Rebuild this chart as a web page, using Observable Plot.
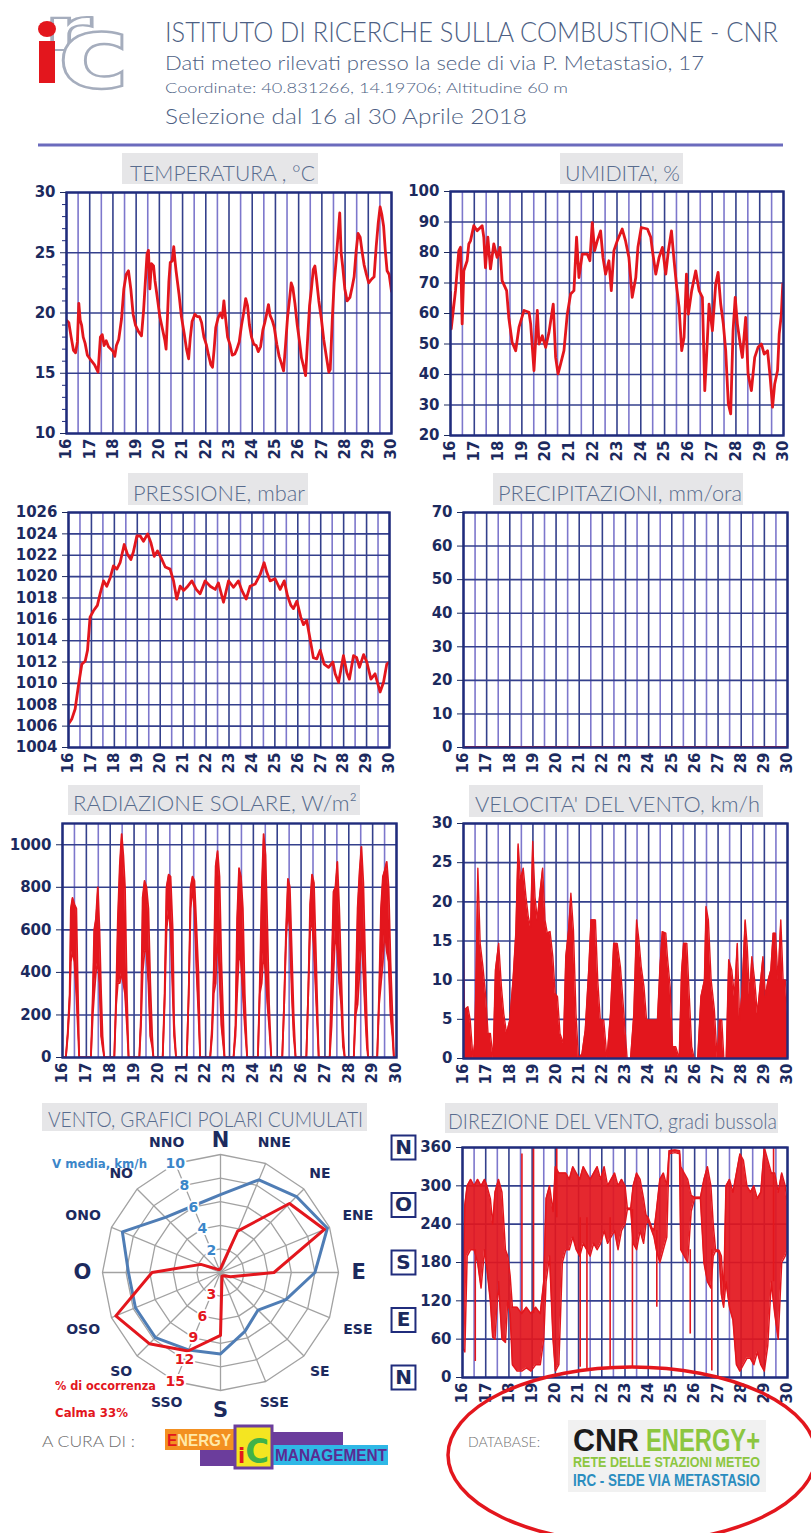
<!DOCTYPE html>
<html>
<head>
<meta charset="utf-8">
<script src="https://cdn.jsdelivr.net/npm/d3@7"></script>
<script src="https://cdn.jsdelivr.net/npm/@observablehq/plot@0.6"></script>
<style>
  body { margin: 0; background: #fff; }
  #page { position: relative; width: 811px; height: 1533px; overflow: hidden; background: #fff; }
  #page > svg { position: absolute; }
  .tchart text { font-weight: 700; }
</style>
</head>
<body>
<div id="page"></div>
<script>
// ---------- Asse temporale (giorni di aprile 2018) ----------
const giorni = [16, 17, 18, 19, 20, 21, 22, 23, 24, 25, 26, 27, 28, 29, 30];
const mezziGiorni = [16.5, 17.5, 18.5, 19.5, 20.5, 21.5, 22.5, 23.5, 24.5, 25.5, 26.5, 27.5, 28.5, 29.5];

// ---------- Temperatura, °C  [giorno, valore] ----------
const temperatura = [
  [16.00,19.4],[16.10,19.2],[16.20,18.0],[16.30,16.9],[16.39,16.7],[16.47,17.6],[16.53,20.8],[16.59,19.4],
  [16.65,19.0],[16.72,18.0],[16.80,17.5],[16.90,16.5],[17.01,16.2],[17.21,15.7],[17.36,15.1],[17.46,18.0],
  [17.54,18.2],[17.62,17.3],[17.71,17.7],[17.81,17.2],[17.91,17.0],[18.01,16.8],[18.08,16.4],[18.15,17.3],
  [18.25,17.8],[18.37,19.5],[18.47,22.0],[18.57,23.2],[18.67,23.5],[18.77,22.0],[18.87,19.9],[18.97,19.0],
  [19.12,18.4],[19.23,18.1],[19.32,20.2],[19.39,22.4],[19.47,24.9],[19.53,25.2],[19.59,22.0],[19.66,24.1],
  [19.75,23.9],[19.81,22.7],[19.91,21.3],[20.02,19.7],[20.12,18.8],[20.24,17.7],[20.29,17.0],[20.35,19.7],
  [20.41,22.6],[20.47,24.2],[20.55,24.3],[20.62,25.5],[20.67,24.4],[20.72,23.5],[20.85,21.5],[20.95,19.7],
  [21.07,18.3],[21.17,17.0],[21.26,16.2],[21.33,17.9],[21.41,19.3],[21.53,19.9],[21.63,19.7],[21.73,19.7],
  [21.82,19.2],[21.92,18.0],[22.02,17.4],[22.12,16.5],[22.22,15.7],[22.29,15.5],[22.36,17.0],[22.43,18.8],
  [22.53,19.6],[22.63,20.0],[22.71,19.6],[22.78,21.0],[22.84,19.8],[22.94,18.0],[23.04,17.4],[23.14,16.5],
  [23.25,16.6],[23.34,17.0],[23.44,17.6],[23.54,19.0],[23.64,20.1],[23.72,21.2],[23.80,20.6],[23.88,19.0],
  [23.97,18.0],[24.07,17.4],[24.17,17.3],[24.26,16.8],[24.36,17.2],[24.46,18.6],[24.54,19.2],[24.63,20.0],
  [24.70,20.7],[24.77,19.8],[24.86,19.4],[24.95,18.8],[25.06,17.4],[25.16,16.4],[25.26,15.8],[25.35,15.2],
  [25.43,17.2],[25.52,19.6],[25.61,21.2],[25.68,22.5],[25.75,22.1],[25.84,20.8],[25.94,19.0],[26.04,17.6],
  [26.12,16.3],[26.21,15.6],[26.30,14.8],[26.38,17.6],[26.47,20.6],[26.55,22.0],[26.63,23.6],[26.70,23.9],
  [26.77,22.8],[26.87,21.0],[26.98,19.5],[27.08,17.8],[27.20,16.3],[27.30,15.1],[27.36,15.3],[27.45,19.5],
  [27.53,22.5],[27.62,24.5],[27.70,26.5],[27.77,28.3],[27.83,25.0],[27.90,23.8],[27.99,22.0],[28.09,21.0],
  [28.21,21.3],[28.31,22.2],[28.39,23.0],[28.48,25.2],[28.56,26.6],[28.65,26.3],[28.74,25.0],[28.82,24.0],
  [28.92,23.2],[29.02,22.5],[29.14,22.8],[29.25,23.0],[29.34,25.5],[29.43,27.5],[29.51,28.8],[29.58,28.2],
  [29.66,27.2],[29.74,25.0],[29.81,23.5],[29.90,23.2],[30.00,21.8]
];

// ---------- Umidità relativa, %  [giorno, valore] ----------
const umidita = [
  [16.00,67],[16.03,55],[16.21,67.5],[16.35,80.6],[16.42,81.7],[16.49,56.6],[16.56,74],[16.70,77.3],
  [16.77,82.8],[16.84,83.8],[16.98,88.8],[17.12,87.1],[17.33,88.8],[17.40,85],[17.47,75],[17.57,85],
  [17.68,74.6],[17.82,82.8],[17.96,78.4],[18.08,81.7],[18.17,70.8],[18.36,67.5],[18.45,58.7],[18.59,50.6],
  [18.74,47.8],[18.88,55.5],[19.09,61],[19.30,60.4],[19.37,56.6],[19.51,41.3],[19.65,61],[19.72,50],
  [19.86,52.7],[20.00,48.9],[20.14,53.8],[20.32,63.1],[20.42,45.6],[20.52,40.2],[20.63,43.5],[20.77,47.8],
  [20.91,59.8],[21.05,66.4],[21.19,67.5],[21.30,85],[21.40,71.8],[21.54,79.5],[21.75,79.5],[21.86,77.3],
  [21.96,89.8],[22.06,80.6],[22.17,83.8],[22.31,87.1],[22.41,78.4],[22.52,72.9],[22.66,77.3],[22.76,67.5],
  [22.87,80.6],[23.01,83.8],[23.22,87.7],[23.36,83.8],[23.50,78.4],[23.64,65.3],[23.79,71.8],[23.88,81.7],
  [24.02,88.2],[24.28,87.7],[24.42,85],[24.49,80.6],[24.63,72.9],[24.77,78.4],[24.91,81.7],[25.05,72.9],
  [25.16,80.6],[25.29,87.1],[25.40,77.3],[25.51,68.6],[25.61,62],[25.72,47.8],[25.82,52.2],[25.92,72.9],
  [26.00,59.8],[26.14,67.5],[26.31,74],[26.45,67.5],[26.59,65.3],[26.69,34.7],[26.77,46.7],[26.87,63.1],
  [27.01,54.4],[27.15,69.7],[27.25,73.5],[27.36,63.1],[27.47,56.6],[27.57,47.8],[27.68,30.4],[27.78,27.1],
  [27.88,54.4],[27.97,65.3],[28.06,56.6],[28.18,50],[28.27,45.6],[28.41,58.7],[28.51,40.2],[28.65,34.7],
  [28.79,45.6],[28.93,48.9],[29.07,50],[29.19,46.7],[29.33,47.8],[29.44,39.1],[29.54,29.3],[29.63,36.9],
  [29.75,41.3],[29.82,53.3],[29.91,59.8],[29.97,69.7],[30.00,60.9]
];

// ---------- Pressione, mbar  [giorno, valore] ----------
const pressione = [
  [16.00,1006.2],[16.15,1006.7],[16.29,1007.6],[16.44,1009.9],[16.58,1011.8],[16.73,1012.1],[16.83,1013.1],
  [16.94,1016.2],[17.09,1016.8],[17.26,1017.3],[17.38,1018.4],[17.53,1019.6],[17.67,1019.1],[17.82,1019.9],
  [17.96,1021.0],[18.11,1020.7],[18.25,1021.3],[18.43,1023.0],[18.57,1022.1],[18.72,1021.6],[18.83,1022.3],
  [18.98,1023.8],[19.13,1023.8],[19.27,1023.3],[19.45,1024.0],[19.59,1023.2],[19.74,1021.9],[19.88,1022.4],
  [20.03,1021.8],[20.22,1020.9],[20.43,1020.7],[20.58,1019.6],[20.72,1017.9],[20.87,1019.1],[21.02,1018.7],
  [21.16,1019.0],[21.38,1019.6],[21.57,1018.8],[21.74,1018.4],[21.96,1019.6],[22.18,1019.1],[22.40,1018.8],
  [22.54,1019.4],[22.76,1017.6],[22.98,1019.6],[23.20,1019.0],[23.41,1019.6],[23.56,1018.7],[23.75,1017.9],
  [23.92,1019.1],[24.14,1019.3],[24.36,1020.2],[24.53,1021.3],[24.65,1020.4],[24.79,1019.6],[25.01,1019.8],
  [25.23,1018.8],[25.41,1019.6],[25.55,1018.2],[25.70,1017.3],[25.81,1017.0],[25.96,1017.7],[26.13,1016.2],
  [26.25,1015.5],[26.39,1015.9],[26.54,1014.1],[26.68,1012.4],[26.83,1012.3],[26.98,1013.1],[27.15,1011.8],
  [27.34,1011.5],[27.53,1012.0],[27.63,1010.9],[27.78,1010.1],[27.99,1012.6],[28.14,1011.0],[28.25,1010.4],
  [28.43,1012.6],[28.57,1012.4],[28.69,1011.5],[28.87,1012.7],[29.01,1012.0],[29.19,1010.4],[29.37,1010.9],
  [29.59,1009.2],[29.74,1010.1],[29.88,1011.8],[30.00,1012.0]
];

// ---------- Precipitazioni, mm/ora  [giorno, valore] ----------
const precipitazioni = [
  [16,0],[17,0],[18,0],[19,0],[20,0],[21,0],[22,0],[23,0],[24,0],[25,0],[26,0],[27,0],[28,0],[29,0],[30,0]
];

// ---------- Radiazione solare, W/m²  [giorno, massimo, minimo] ----------
const radiazione = [
  [16.00,0,0],
  [16.14,0,0],[16.22,120,100],[16.30,300,250],[16.35,700,450],[16.42,750,500],[16.50,720,450],[16.58,700,300],[16.62,460,200],[16.70,0,0],
  [17.19,0,0],[17.27,300,200],[17.33,600,300],[17.40,650,400],[17.48,800,450],[17.55,600,350],[17.62,300,100],[17.68,100,50],[17.75,0,0],
  [18.17,0,0],[18.25,300,250],[18.32,650,350],[18.40,900,350],[18.48,1050,400],[18.55,950,350],[18.62,800,300],[18.70,300,150],[18.77,0,0],
  [19.22,0,0],[19.29,200,150],[19.36,750,400],[19.44,830,500],[19.52,800,500],[19.60,700,350],[19.68,350,100],[19.76,100,50],[19.81,0,0],
  [20.20,0,0],[20.28,300,250],[20.36,800,600],[20.45,860,700],[20.53,850,600],[20.62,600,300],[20.68,160,100],[20.76,0,0],
  [21.21,0,0],[21.29,300,300],[21.37,800,700],[21.45,850,800],[21.53,830,700],[21.62,600,400],[21.70,390,200],[21.77,0,0],
  [22.19,0,0],[22.27,150,100],[22.34,400,300],[22.42,900,350],[22.50,970,600],[22.58,850,400],[22.66,450,150],[22.79,0,0],
  [23.17,0,0],[23.25,150,100],[23.32,650,300],[23.40,890,500],[23.48,850,450],[23.56,700,300],[23.64,300,150],[23.74,0,0],
  [24.19,0,0],[24.27,350,300],[24.35,780,350],[24.43,1050,500],[24.51,950,400],[24.59,600,250],[24.66,250,150],[24.75,0,0],
  [25.21,0,0],[25.29,250,250],[25.37,600,550],[25.45,840,700],[25.53,800,600],[25.61,500,300],[25.69,200,100],[25.77,0,0],
  [26.22,0,0],[26.30,300,300],[26.38,720,600],[26.46,860,650],[26.54,820,500],[26.62,500,300],[26.74,0,0],
  [27.20,0,0],[27.28,400,150],[27.36,780,400],[27.44,800,600],[27.52,920,500],[27.60,700,350],[27.68,400,250],[27.76,120,50],[27.83,0,0],
  [28.21,0,0],[28.29,300,200],[28.37,700,250],[28.45,870,400],[28.53,990,600],[28.61,820,400],[28.69,450,200],[28.76,150,50],[28.81,0,0],
  [29.19,0,0],[29.27,300,250],[29.35,700,350],[29.43,850,450],[29.51,880,600],[29.59,920,500],[29.67,800,450],[29.75,450,200],[29.83,200,100],[29.89,0,0],
  [30.00,0,0]
];

// ---------- Velocità del vento, km/h  [giorno, valore] ----------
const velocitaVento = [
  [16.00,14.7],[16.04,6.2],[16.19,6.6],[16.29,4.9],[16.41,0],[16.48,1.9],[16.55,11.7],[16.62,24.3],[16.72,14.7],
  [16.84,11.7],[16.96,7.9],[17.06,3.2],[17.16,3.2],[17.28,0],[17.38,11.3],[17.52,14.7],[17.64,9.1],[17.74,5.7],
  [17.86,3.2],[18.00,4.9],[18.14,10],[18.26,16],[18.36,27.4],[18.46,22.8],[18.58,24.3],[18.70,20.6],[18.80,18.1],
  [18.90,16.8],[18.99,27.7],[19.09,20.6],[19.19,17.7],[19.30,21.1],[19.42,24.3],[19.52,17.7],[19.62,16],[19.74,16.2],
  [19.86,13],[19.96,8.3],[20.06,7.9],[20.17,3.2],[20.32,1.9],[20.42,13],[20.54,16.4],[20.64,21.1],[20.75,16.4],
  [20.86,5.7],[20.97,0],[21.12,0.6],[21.26,3.6],[21.41,11.3],[21.51,17.7],[21.70,17.7],[21.80,10],[21.91,4.9],
  [22.06,4.9],[22.20,0],[22.35,5.7],[22.49,14.7],[22.64,14.7],[22.78,11.7],[22.93,5.7],[23.07,0],[23.22,0],
  [23.36,5.7],[23.48,17.7],[23.58,15.1],[23.68,11.7],[23.80,9.1],[23.91,4.9],[24.06,4.9],[24.23,4.9],[24.38,4.9],
  [24.49,11.7],[24.59,16.2],[24.74,16],[24.81,13],[24.93,9.1],[25.03,1.5],[25.17,1.5],[25.32,0],[25.42,10.9],
  [25.51,14.7],[25.65,14.7],[25.75,8.3],[25.86,1.5],[25.97,0],[26.12,0],[26.26,7.9],[26.41,10],[26.48,19.4],
  [26.58,17.7],[26.70,10],[26.84,6.2],[26.96,0],[27.06,4.9],[27.16,4.9],[27.25,0],[27.35,0],[27.46,12.6],
  [27.59,11.3],[27.71,7.9],[27.83,14.7],[27.93,4.9],[28.03,8.3],[28.17,17.7],[28.26,14.3],[28.36,7.9],[28.46,13],
  [28.58,10],[28.70,5.7],[28.84,10],[28.94,13],[29.04,7.9],[29.16,10],[29.28,11.3],[29.38,16],[29.48,16],
  [29.59,10],[29.71,17.7],[29.81,10],[29.91,10],[30.00,5.7]
];

// ---------- Direzione del vento, gradi  [giorno, minimo, massimo] ----------
const direzioneVento = [
  [16.00,47,90],[16.10,40,270],[16.20,190,300],[16.35,200,310],[16.50,200,300],[16.65,180,310],[16.80,140,300],
  [16.95,200,310],[17.05,170,300],[17.20,120,280],[17.30,63,240],[17.40,60,290],[17.55,150,310],[17.70,60,290],
  [17.85,55,200],[17.95,120,190],[18.05,100,160],[18.15,20,110],[18.35,10,110],[18.55,10,100],[18.75,15,110],
  [18.95,10,100],[19.15,20,110],[19.35,20,100],[19.50,60,150],[19.60,150,280],[19.75,190,300],[19.90,60,260],
  [20.00,10,330],[20.15,20,320],[20.30,180,320],[20.45,200,320],[20.60,200,310],[20.75,220,330],[20.90,200,320],
  [21.05,190,310],[21.20,210,330],[21.35,200,320],[21.50,190,310],[21.65,210,320],[21.80,200,330],[21.95,210,310],
  [22.10,230,330],[22.25,210,300],[22.40,220,310],[22.55,230,320],[22.70,200,300],[22.85,230,310],[23.00,240,300],
  [23.10,263,265],[23.25,263,265],[23.35,210,300],[23.50,200,320],[23.65,230,310],[23.80,210,280],[23.90,240,255],
  [24.00,245,250],[24.15,230,235],[24.25,220,230],[24.35,200,260],[24.50,180,310],[24.65,200,320],[24.80,220,300],
  [24.90,350,355],[25.15,352,356],[25.35,350,355],[25.40,200,330],[25.55,190,320],[25.70,180,310],[25.85,260,285],
  [26.00,280,282],[26.25,280,282],[26.40,180,310],[26.55,150,330],[26.70,140,300],[26.80,190,240],[26.90,198,200],
  [27.05,196,199],[27.15,130,190],[27.25,110,130],[27.35,150,300],[27.50,110,310],[27.65,90,290],[27.80,20,320],
  [27.95,10,350],[28.10,20,340],[28.25,30,300],[28.40,30,290],[28.55,20,300],[28.70,40,280],[28.85,20,290],
  [29.00,10,360],[29.15,50,340],[29.30,150,320],[29.45,100,320],[29.60,60,290],[29.75,180,320],[29.90,190,300],
  [30.00,200,270]
];
// Escursioni brevi e isolate della direzione  [giorno, da, a]
const direzionePicchi = [
  [16.55,25,200],[18.56,100,350],[19.06,100,360],[20.06,250,360],[21.07,16,250],[21.36,10,250],[22.36,16,250],
  [23.32,16,263],[24.37,110,230],[25.81,68,200],[26.74,10,200],[29.40,150,360]
];
const bussola = [
  {lettera: "N", gradi: 360}, {lettera: "O", gradi: 270}, {lettera: "S", gradi: 180},
  {lettera: "E", gradi: 90}, {lettera: "N", gradi: 0}
];

// ---------- Grafici polari cumulati ----------
const direzioni = ["N","NNE","NE","ENE","E","ESE","SE","SSE","S","SSO","SO","OSO","O","ONO","NO","NNO"];
const vMedia = [6.6, 8.5, 9.1, 9.8, 8.0, 6.0, 4.5, 5.4, 6.9, 7.1, 7.8, 7.8, 7.8, 9.0, 6.6, 6.1];   // km/h
const occorrenza = [0.5, 5.7, 12.4, 14.3, 6.8, 1.4, 0.6, 0.5, 8.0, 10.8, 12.8, 14.4, 8.7, 2.7, 0.6, 0.4]; // %
const etichetteV = [2, 4, 6, 8, 10];
const etichetteP = [3, 6, 9, 12, 15];
const calma = 33;

// ---------- Stile ----------
const RED = "#e3161d";
const NAVY = "#1c2a5e";
const FRAME = "#202c7c";
const GRID_DAY = "#34408c";
const GRID_HALF = "#7d77cc";
const FONT = "'DejaVu Sans', Verdana, sans-serif";
const page = document.getElementById("page");

function place(node, left, top) {
  node.style.left = left + "px";
  node.style.top = top + "px";
  page.appendChild(node);
}

// Grafico su base temporale con la griglia del bollettino
function timeChart({left, frame: [fx0, fy0, fx1, fy1], domain, ticks, minor = [], marks, extra = []}) {
  const top = fy0 - 14;
  const marginLeft = fx0 - left, marginTop = fy0 - top, marginRight = 12, marginBottom = 36;
  const width = fx1 - left + marginRight;
  const height = fy1 - top + marginBottom;
  const chart = Plot.plot({
    width, height, marginLeft, marginTop, marginRight, marginBottom,
    className: "tchart",
    style: {background: "transparent", fontFamily: FONT, fontSize: "15px", overflow: "visible"},
    x: {domain: [16, 30]},
    y: {domain},
    marks: [
      Plot.ruleX(mezziGiorni, {stroke: GRID_HALF, strokeWidth: 1.6}),
      Plot.ruleX(giorni, {stroke: GRID_DAY, strokeWidth: 1.6}),
      Plot.ruleY(ticks, {stroke: GRID_DAY, strokeWidth: 1.6}),
      ...marks,
      Plot.frame({stroke: FRAME, strokeWidth: 2.4}),
      ...(minor.length ? [Plot.axisY(minor, {tickSize: 4, tickFormat: () => "", label: null, color: FRAME})] : []),
      Plot.axisY(ticks, {tickSize: 6, tickPadding: 5, tickFormat: d => String(d), label: null, fontSize: 15, fontWeight: "bold", color: NAVY}),
      Plot.axisX(giorni, {tickRotate: -90, tickSize: 0, tickPadding: 5, tickFormat: d => String(d), label: null, fontSize: 15, fontWeight: "bold", color: NAVY}),
      ...extra
    ]
  });
  place(chart, left, top);
}

const lineOf = (data, w = 2.8) => Plot.line(data, {x: d => d[0], y: d => d[1], stroke: RED, strokeWidth: w, clip: true});

// Temperatura
timeChart({
  left: 0, frame: [66, 192, 391, 433], domain: [10, 30],
  ticks: [10, 15, 20, 25, 30],
  minor: [11,12,13,14,16,17,18,19,21,22,23,24,26,27,28,29],
  marks: [lineOf(temperatura)]
});
// Umidità
timeChart({
  left: 395, frame: [450, 191, 783, 435], domain: [20, 100],
  ticks: [20, 30, 40, 50, 60, 70, 80, 90, 100],
  marks: [lineOf(umidita)]
});
// Pressione
timeChart({
  left: 0, frame: [68, 512, 389, 747], domain: [1004, 1026],
  ticks: [1004,1006,1008,1010,1012,1014,1016,1018,1020,1022,1024,1026],
  marks: [lineOf(pressione)]
});
// Precipitazioni
timeChart({
  left: 395, frame: [463, 512, 787, 747], domain: [0, 70],
  ticks: [0, 10, 20, 30, 40, 50, 60, 70],
  marks: [lineOf(precipitazioni, 3)]
});
// Radiazione solare
timeChart({
  left: 0, frame: [62, 823, 396, 1057], domain: [0, 1100],
  ticks: [0, 200, 400, 600, 800, 1000],
  marks: [
    Plot.areaY(radiazione, {x: d => d[0], y1: d => d[2], y2: d => d[1], fill: RED, clip: true}),
    Plot.line(radiazione, {x: d => d[0], y: d => d[1], stroke: RED, strokeWidth: 1.8, clip: true}),
    Plot.line(radiazione, {x: d => d[0], y: d => d[2], stroke: RED, strokeWidth: 1.8, clip: true})
  ]
});
// Velocità del vento
timeChart({
  left: 395, frame: [463, 823, 787, 1058], domain: [0, 30],
  ticks: [0, 5, 10, 15, 20, 25, 30],
  marks: [
    Plot.areaY(velocitaVento, {x: d => d[0], y: d => d[1], fill: RED, clip: true}),
    Plot.line(velocitaVento, {x: d => d[0], y: d => d[1], stroke: RED, strokeWidth: 1.4, clip: true})
  ]
});
// Direzione del vento
timeChart({
  left: 380, frame: [462, 1147, 787, 1377], domain: [0, 360],
  ticks: [0, 60, 120, 180, 240, 300, 360],
  marks: [
    Plot.areaY(direzioneVento, {x: d => d[0], y1: d => d[1], y2: d => d[2], fill: RED, fillOpacity: 0.92, clip: true}),
    Plot.line(direzioneVento, {x: d => d[0], y: d => d[1], stroke: RED, strokeWidth: 1.5, clip: true}),
    Plot.line(direzioneVento, {x: d => d[0], y: d => d[2], stroke: RED, strokeWidth: 1.5, clip: true}),
    Plot.ruleX(direzionePicchi, {x: d => d[0], y1: d => d[1], y2: d => d[2], stroke: RED, strokeWidth: 1.6})
  ],
  extra: [
    Plot.dot(bussola, {y: "gradi", frameAnchor: "left", dx: -59, symbol: "square", r: 13.5, fill: "white", stroke: FRAME, strokeWidth: 2}),
    Plot.text(bussola, {y: "gradi", text: "lettera", frameAnchor: "left", textAnchor: "middle", dx: -59, fontSize: 20, fontWeight: "bold", fill: NAVY})
  ]
});

// Rosa dei venti: velocità media e frequenza per settore
{
  const ang = i => i * Math.PI / 8;
  const closed = arr => arr.map((v, i) => ({v, i})).concat([{v: arr[0], i: 0}]);
  const anelli = [0.2, 0.4, 0.6, 0.8, 1].flatMap(k => direzioni.concat(direzioni[0]).map((d, j) => ({k, i: j % 16})));
  const labelR = d => d === "N" ? 1.12 : d.length === 1 ? 1.17 : (d.length === 3 && (d[0] === "E" || d[0] === "O") ? 1.26 : 1.19);
  const polar = Plot.plot({
    width: 380, height: 320, margin: 0,
    style: {background: "transparent", fontFamily: FONT, overflow: "visible"},
    x: {domain: [-1.61, 1.61], axis: null},
    y: {domain: [-1.356, 1.356], axis: null},
    marks: [
      Plot.line(anelli, {x: d => d.k * Math.sin(ang(d.i)), y: d => d.k * Math.cos(ang(d.i)), z: "k", stroke: "#a2a2a2", strokeWidth: 1.3}),
      Plot.link(direzioni, {x1: 0, y1: 0, x2: (d, i) => Math.sin(ang(i)), y2: (d, i) => Math.cos(ang(i)), stroke: "#a2a2a2", strokeWidth: 1.3}),
      Plot.line(closed(vMedia), {x: d => d.v / 10 * Math.sin(ang(d.i)), y: d => d.v / 10 * Math.cos(ang(d.i)), stroke: "#4f7db5", strokeWidth: 3}),
      Plot.line(closed(occorrenza), {x: d => d.v / 15 * Math.sin(ang(d.i)), y: d => d.v / 15 * Math.cos(ang(d.i)), stroke: RED, strokeWidth: 3}),
      Plot.text(etichetteV, {x: v => v / 10 * Math.sin(ang(15)), y: v => v / 10 * Math.cos(ang(15)), text: d => String(d), fill: "#3b86c9", stroke: "white", strokeWidth: 4, fontSize: 14, fontWeight: "bold"}),
      Plot.text(etichetteP, {x: v => v / 15 * Math.sin(ang(9)), y: v => v / 15 * Math.cos(ang(9)), text: d => String(d), fill: RED, stroke: "white", strokeWidth: 4, fontSize: 14, fontWeight: "bold"}),
      Plot.text(direzioni, {
        x: (d, i) => labelR(d) * Math.sin(ang(i)), y: (d, i) => labelR(d) * Math.cos(ang(i)),
        text: d => d, fontSize: d => d.length === 1 ? 21 : 14, fontWeight: "bold", fill: NAVY
      })
    ]
  });
  place(polar, 30, 1112);
}

// Testata, titoli dei riquadri e piè di pagina
const titoli = [
  {t: "TEMPERATURA , °C", box: [122, 153, 196, 31], x: 130, w: 185, y: 181},
  {t: "UMIDITA', %", box: [560, 153, 123, 31], x: 565, w: 115, y: 181},
  {t: "PRESSIONE, mbar", box: [128, 473, 180, 32], x: 133, w: 172, y: 501},
  {t: "PRECIPITAZIONI, mm/ora", box: [493, 473, 250, 32], x: 498, w: 244, y: 501},
  {t: "RADIAZIONE SOLARE, W/m²", box: [68, 785, 292, 30], x: 73, w: 284, y: 811},
  {t: "VELOCITA' DEL VENTO, km/h", box: [469, 785, 294, 32], x: 475, w: 285, y: 812},
  {t: "VENTO, GRAFICI POLARI CUMULATI", box: [42, 1103, 325, 28], x: 48, w: 315, y: 1127},
  {t: "DIREZIONE DEL VENTO, gradi bussola", box: [445, 1103, 333, 30], x: 448, w: 329, y: 1129}
];
const T = (x, y, s, opts, txt) =>
  `<text x="${x}" y="${y}" font-size="${s}" ${opts}>${txt}</text>`;
const fit = w => `textLength="${w}" lengthAdjust="spacingAndGlyphs"`;
const HEAD = "#4d5f84";
let deco = `<svg xmlns="http://www.w3.org/2000/svg" width="811" height="1533" style="left:0;top:0;pointer-events:none">`;
// logo irc
deco += `<text x="44" y="50" font-size="58" font-family="DejaVu Sans" font-weight="bold" fill="white" stroke="#a5adbd" stroke-width="2.2" ${fit(48)}>r</text>`;
deco += `<text x="58" y="88" font-size="100" font-family="DejaVu Sans" font-weight="bold" fill="white" stroke="#a5adbd" stroke-width="2.4" ${fit(72)}>c</text>`;
deco += `<rect x="39" y="41" width="16" height="42" fill="${RED}"/><ellipse cx="47" cy="29" rx="9" ry="8" fill="${RED}"/>`;
// intestazione
deco += T(165, 42, 28, `font-family="Lato, 'Open Sans', sans-serif" font-weight="300" fill="${HEAD}" ${fit(613)}`, "ISTITUTO DI RICERCHE SULLA COMBUSTIONE  -  CNR");
deco += T(165, 70, 20, `font-family="Lato, sans-serif" font-weight="300" fill="${HEAD}" ${fit(539)}`, "Dati meteo rilevati presso la sede di via P. Metastasio, 17");
deco += T(165, 93, 14, `font-family="Lato, sans-serif" font-weight="300" fill="${HEAD}" ${fit(403)}`, "Coordinate: 40.831266, 14.19706; Altitudine  60 m");
deco += T(165, 124, 21, `font-family="Lato, sans-serif" font-weight="300" fill="${HEAD}" ${fit(362)}`, "Selezione dal 16  al  30  Aprile 2018");
deco += `<line x1="38" x2="783" y1="145" y2="145" stroke="#6b6bbd" stroke-width="3"/>`;
// titoli dei grafici
for (const d of titoli) {
  deco += `<rect x="${d.box[0]}" y="${d.box[1]}" width="${d.box[2]}" height="${d.box[3]}" fill="#e6e6e8"/>`;
  deco += T(d.x, d.y, 22, `font-family="Lato, sans-serif" font-weight="300" fill="#586c8e" ${fit(d.w)}`, d.t);
}
// legende della rosa dei venti
deco += T(52, 1168, 13, `font-family="${FONT}" font-weight="bold" fill="#3b86c9" ${fit(95)}`, "V media, km/h");
deco += T(55, 1390, 13, `font-family="${FONT}" font-weight="bold" fill="${RED}" ${fit(101)}`, "% di occorrenza");
deco += T(55, 1417, 13, `font-family="${FONT}" font-weight="bold" fill="${RED}" ${fit(73)}`, `Calma ${calma}%`);
// piè di pagina
deco += T(42, 1447, 15, `font-family="Lato, sans-serif" font-weight="300" fill="#6f6f6f" ${fit(93)}`, "A CURA DI :");
deco += `<rect x="200" y="1446" width="42" height="20" fill="#6b3d9c"/><rect x="268" y="1432" width="75" height="13" fill="#6b3d9c"/>`;
deco += `<rect x="165" y="1429" width="70" height="21" fill="#f39021"/>`;
deco += T(167, 1446, 17, `font-family="'Liberation Sans Narrow', 'Liberation Sans', sans-serif" font-weight="bold" fill="#ffe9a8" ${fit(64)}`, `<tspan fill="#e3161d">E</tspan>NERGY`);
deco += `<rect x="272" y="1445" width="116" height="20" fill="#2fb8e6"/>`;
deco += T(275, 1461, 16, `font-family="'Liberation Sans Narrow', 'Liberation Sans', sans-serif" font-weight="bold" fill="#5b2b93" ${fit(112)}`, "MANAGEMENT");
deco += `<rect x="235" y="1426" width="37" height="42" fill="#f4e521" stroke="#6b3d9c" stroke-width="3"/>`;
deco += T(238, 1463, 34, `font-family="'DejaVu Sans', sans-serif" font-weight="bold" fill="#3fb24a" ${fit(31)}`, `<tspan fill="#e3161d" font-size="22">i</tspan>C`);
deco += T(468, 1447, 14, `font-family="Lato, sans-serif" font-weight="300" fill="#6f6f6f" ${fit(72)}`, "DATABASE:");
deco += `<rect x="568" y="1420" width="198" height="72" fill="#f1f1f1"/>`;
deco += T(573, 1451, 32, `font-family="'Liberation Sans Narrow', 'Liberation Sans', sans-serif" font-weight="bold" fill="#1b1b1b" ${fit(66)}`, "CNR");
deco += T(646, 1451, 32, `font-family="'Liberation Sans Narrow', 'Liberation Sans', sans-serif" font-weight="bold" fill="#8cc63f" ${fit(114)}`, "ENERGY+");
deco += T(573, 1467, 15, `font-family="'Liberation Sans Narrow', 'Liberation Sans', sans-serif" font-weight="bold" fill="#8cc63f" ${fit(187)}`, "RETE DELLE STAZIONI METEO");
deco += T(573, 1486, 17, `font-family="'Liberation Sans Narrow', 'Liberation Sans', sans-serif" font-weight="bold" fill="#2a8dbf" ${fit(187)}`, "IRC - SEDE VIA METASTASIO");
deco += `<ellipse cx="632" cy="1455" rx="184" ry="88" fill="none" stroke="${RED}" stroke-width="3.5"/>`;
deco += `</svg>`;
page.insertAdjacentHTML("beforeend", deco);
</script>
</body>
</html>
